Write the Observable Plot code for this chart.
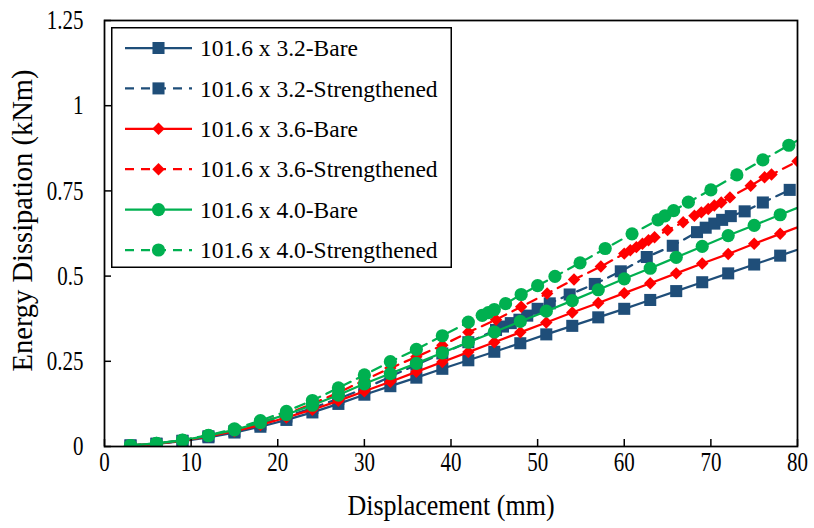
<!DOCTYPE html>
<html><head><meta charset="utf-8">
<script src="https://cdn.jsdelivr.net/npm/d3@7"></script>
<script src="https://cdn.jsdelivr.net/npm/@observablehq/plot@0.6"></script>
<style>
body{margin:0;background:#fff;}
#wrap{position:relative;width:814px;height:528px;font-family:'Liberation Serif','Times New Roman',serif;}
#legend{position:absolute;left:111px;top:27px;}
</style></head><body><div id="wrap"></div>
<script>
// ---- data ----
const xTicks = [0, 10, 20, 30, 40, 50, 60, 70, 80];
const yTicks = [0, 0.25, 0.5, 0.75, 1, 1.25];
const xTitle = "Displacement (mm)";
const yTitle = "Energy Dissipation (kNm)";

const seriesNames = [
  "101.6 x 3.2-Bare", "101.6 x 3.2-Strengthened",
  "101.6 x 3.6-Bare", "101.6 x 3.6-Strengthened",
  "101.6 x 4.0-Bare", "101.6 x 4.0-Strengthened"
];
const seriesColors = ["#1F4E79", "#1F4E79", "#FF0000", "#FF0000", "#00B050", "#00B050"];
const seriesSymbols = ["square", "square", "diamond2", "diamond2", "circle", "circle"];
const seriesDashed = [false, true, false, true, false, true];

const dispBare = [3,6,9,12,15,18,21,24,27,30,33,36,39,42,45,48,51,54,57,60,63,66,69,72,75,78,81];
const e32Bare = [0.003,0.008,0.016,0.027,0.041,0.058,0.078,0.1,0.125,0.152,0.177,0.202,0.228,0.253,0.278,0.303,0.329,0.354,0.379,0.404,0.43,0.456,0.482,0.508,0.534,0.56,0.586];
const e36Bare = [0.003,0.008,0.017,0.03,0.045,0.063,0.085,0.108,0.134,0.162,0.19,0.219,0.248,0.277,0.306,0.335,0.364,0.393,0.421,0.45,0.479,0.508,0.537,0.565,0.595,0.624,0.653];
const e40Bare = [0.003,0.009,0.018,0.032,0.049,0.07,0.094,0.121,0.151,0.184,0.214,0.244,0.275,0.306,0.336,0.367,0.397,0.428,0.46,0.492,0.523,0.555,0.587,0.619,0.649,0.68,0.711];

const disp32Str = [3,6,9,12,15,18,21,24,27,30,33,36,39,42,45.2,46,46.9,47.9,48.8,50,51.4,53.7,56.6,59.6,62.6,65.6,68.4,69.4,70.4,71.3,72.3,73.9,76,79.1];
const e32Str = [0.003,0.008,0.017,0.03,0.045,0.065,0.088,0.113,0.14,0.17,0.205,0.24,0.273,0.306,0.342,0.352,0.362,0.372,0.384,0.404,0.42,0.446,0.477,0.514,0.556,0.589,0.629,0.642,0.654,0.665,0.676,0.69,0.716,0.753];

const disp36Str = [3,6,9,12,15,18,21,24,27,30,33,36,39,42,45.2,48.1,51.1,54.2,57.3,60,60.7,61.4,62.1,62.8,63.5,65,66.8,68.1,68.9,69.7,70.4,71.2,72.2,74.6,76.2,77,80];
const e36Str = [0.003,0.008,0.018,0.032,0.048,0.07,0.095,0.125,0.158,0.195,0.23,0.263,0.297,0.335,0.372,0.41,0.449,0.49,0.528,0.566,0.576,0.585,0.595,0.605,0.614,0.635,0.658,0.677,0.687,0.697,0.707,0.716,0.731,0.765,0.79,0.798,0.837];

const disp40Str = [3,6,9,12,15,18,21,24,27,30,33,36,39,42,43.6,44.3,45,46.3,48.1,50,52,54.9,57.8,60.9,63.9,64.7,65.7,67.4,70,73,76,79,82];
const e40Str = [0.003,0.009,0.019,0.033,0.052,0.076,0.103,0.135,0.172,0.21,0.249,0.285,0.325,0.365,0.385,0.393,0.402,0.419,0.446,0.472,0.499,0.539,0.581,0.624,0.665,0.677,0.692,0.717,0.753,0.797,0.841,0.884,0.925];

const seriesX = [dispBare, disp32Str, dispBare, disp36Str, dispBare, disp40Str];
const seriesY = [e32Bare, e32Str, e36Bare, e36Str, e40Bare, e40Str];

// ---- build ----
const FONT = "'Liberation Serif','Times New Roman',serif";
const symbolR = {square: 6.8, diamond2: 5.6, circle: 6.6};
const W = 814, H = 528, mL = 104, mR = 17, mT = 20, mB = 82;

const seriesMarks = seriesNames.flatMap((name, i) => {
  const rows = seriesX[i].map((x, j) => ({x, y: seriesY[i][j]}));
  return [
    Plot.line(rows, {x: "x", y: "y", stroke: seriesColors[i], strokeWidth: 2.25,
      strokeDasharray: seriesDashed[i] ? "10,7" : null, clip: true}),
    Plot.dot(rows, {x: "x", y: "y", symbol: seriesSymbols[i], r: symbolR[seriesSymbols[i]],
      fill: seriesColors[i], stroke: "none", clip: true})
  ];
});

const chart = Plot.plot({
  width: W, height: H,
  marginLeft: mL, marginRight: mR, marginTop: mT, marginBottom: mB,
  style: {fontFamily: FONT, background: "white", color: "black"},
  x: {domain: [0, 80]},
  y: {domain: [0, 1.25]},
  marks: [
    Plot.axisX({ticks: xTicks, tickSize: 0, tickPadding: 8, fontSize: 21, label: null, tickFormat: d => String(d)}),
    Plot.axisY({ticks: yTicks, tickSize: 0, tickPadding: 21, fontSize: 21, label: null, tickFormat: d => String(d)}),
    ...seriesMarks,
    Plot.tickX(xTicks, {x: d => d, insetTop: (H - mT - mB) - 7, stroke: "black", strokeWidth: 1.5}),
    Plot.tickY(yTicks, {y: d => d, insetRight: (W - mL - mR) - 7, stroke: "black", strokeWidth: 1.5}),
    Plot.frame({stroke: "black", strokeWidth: 1.75}),
    Plot.text([xTitle], {text: d => d, frameAnchor: "bottom", dy: 67, fontSize: 26, fill: "black"}),
    Plot.text([yTitle], {text: d => d, frameAnchor: "left", textAnchor: "middle", rotate: -90, dx: -82, dy: -13, fontSize: 28.5, fill: "black"})
  ]
});

const wrap = document.getElementById("wrap");
wrap.appendChild(chart);

// vertical stretch of the axis texts about their own centre (as in the reference picture)
d3.select(chart).selectAll("text").each(function() {
  const t = this.getAttribute("transform") || "";
  if (t.includes("rotate")) return;
  const s = this.textContent === xTitle ? 1.15 : 1.27;
  const b = this.getBBox();
  const cy = b.y + b.height / 2;
  this.setAttribute("transform", `${t} translate(0,${cy}) scale(1,${s}) translate(0,${-cy})`);
});

// ---- legend ----
const LW = 341, LH = 241;
const leg = d3.select(wrap).append("svg").attr("id", "legend")
  .attr("width", LW).attr("height", LH);
leg.append("rect").attr("x", 0.75).attr("y", 0.75).attr("width", LW - 1.5).attr("height", LH - 1.5)
  .attr("fill", "white").attr("stroke", "black").attr("stroke-width", 1.5);
const symMap = {square: d3.symbolSquare, diamond2: d3.symbolDiamond2, circle: d3.symbolCircle};
seriesNames.forEach((name, i) => {
  const cy = 21 + i * 40.4;
  const g = leg.append("g").attr("transform", `translate(0,${cy})`);
  g.append("line").attr("x1", 14).attr("x2", 81).attr("y1", 0).attr("y2", 0)
    .attr("stroke", seriesColors[i]).attr("stroke-width", 2.25)
    .attr("stroke-dasharray", seriesDashed[i] ? "9,7" : null);
  const r = symbolR[seriesSymbols[i]];
  g.append("path").attr("transform", "translate(47.5,0)")
    .attr("d", d3.symbol(symMap[seriesSymbols[i]], r * r * Math.PI)())
    .attr("fill", seriesColors[i]);
  g.append("text").attr("x", 89).attr("y", 0).attr("dy", "0.35em")
    .attr("font-family", FONT).attr("font-size", 23.5).attr("fill", "black").text(name);
});
</script></body></html>
